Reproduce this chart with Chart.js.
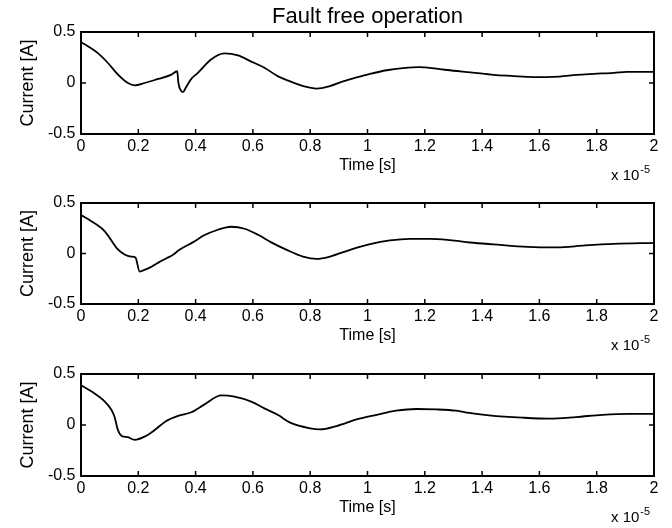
<!DOCTYPE html>
<html><head><meta charset="utf-8">
<script src="https://cdn.jsdelivr.net/npm/chart.js@4/dist/chart.umd.min.js"></script>
<style>
html,body{margin:0;padding:0;background:#fff;}
#wrap{position:relative;width:672px;height:528px;background:#fff;}
canvas{position:absolute;left:0;top:0;}
</style></head><body>
<div id="wrap">
<canvas id="c1" width="672" height="528"></canvas>
<canvas id="c2" width="672" height="528"></canvas>
<canvas id="c3" width="672" height="528"></canvas>
</div>
<script>
// ---- data (time in units of 1e-5 s, current in A) ----
const titleText = 'Fault free operation';
const xTitle = 'Time [s]';
const yTitle = 'Current [A]';
const exponentBase = 'x 10';
const exponentPower = '-5';
const xTickValues = [0, 0.2, 0.4, 0.6, 0.8, 1, 1.2, 1.4, 1.6, 1.8, 2];
const yTickValues = [-0.5, 0, 0.5];

const time1 = [0, 0.024, 0.06, 0.094, 0.13, 0.164, 0.187, 0.222, 0.269, 0.314, 0.336, 0.340, 0.350, 0.356, 0.365, 0.385, 0.408, 0.454, 0.50, 0.548, 0.594, 0.64, 0.688, 0.73, 0.775, 0.823, 0.869, 0.915, 0.962, 1.009, 1.067, 1.124, 1.18, 1.24, 1.30, 1.36, 1.44, 1.51, 1.556, 1.62, 1.67, 1.73, 1.79, 1.86, 1.905, 2.0];
const current1 = [0.40, 0.36, 0.29, 0.196, 0.08, 0.0, -0.023, 0.0, 0.04, 0.08, 0.115, 0.0, -0.08, -0.09, -0.05, 0.04, 0.10, 0.23, 0.29, 0.27, 0.21, 0.15, 0.065, 0.016, -0.03, -0.055, -0.03, 0.016, 0.055, 0.09, 0.125, 0.145, 0.155, 0.14, 0.12, 0.105, 0.08, 0.068, 0.06, 0.058, 0.062, 0.08, 0.09, 0.10, 0.11, 0.11];

const time2 = [0, 0.036, 0.083, 0.129, 0.152, 0.175, 0.19, 0.205, 0.215, 0.24, 0.27, 0.30, 0.32, 0.345, 0.39, 0.43, 0.478, 0.524, 0.571, 0.618, 0.664, 0.718, 0.775, 0.823, 0.869, 0.939, 1.009, 1.078, 1.148, 1.218, 1.288, 1.358, 1.44, 1.56, 1.66, 1.76, 1.86, 2.0];
const current2 = [0.38, 0.32, 0.22, 0.04, -0.01, -0.03, -0.04, -0.18, -0.17, -0.14, -0.09, -0.045, -0.015, 0.04, 0.11, 0.18, 0.235, 0.265, 0.245, 0.185, 0.11, 0.036, -0.03, -0.053, -0.03, 0.036, 0.092, 0.129, 0.145, 0.145, 0.132, 0.109, 0.09, 0.065, 0.06, 0.08, 0.095, 0.105];

const time3 = [0, 0.036, 0.083, 0.106, 0.117, 0.129, 0.141, 0.164, 0.187, 0.222, 0.257, 0.295, 0.339, 0.385, 0.43, 0.49, 0.536, 0.594, 0.64, 0.688, 0.73, 0.80, 0.834, 0.892, 0.962, 1.032, 1.10, 1.17, 1.24, 1.31, 1.354, 1.424, 1.54, 1.634, 1.728, 1.82, 1.913, 2.0];
const current3 = [0.39, 0.33, 0.23, 0.15, 0.08, -0.05, -0.105, -0.12, -0.145, -0.114, -0.05, 0.035, 0.09, 0.125, 0.20, 0.29, 0.278, 0.229, 0.163, 0.098, 0.023, -0.033, -0.043, -0.01, 0.055, 0.10, 0.14, 0.157, 0.153, 0.14, 0.118, 0.095, 0.072, 0.062, 0.078, 0.10, 0.11, 0.11];

// ---- layout ----
const FONT = '"Liberation Sans", Arial, Helvetica, sans-serif';
const PLOT_LEFT = 81, PLOT_RIGHT = 654, W = 672, H = 528, XAXIS_H = 46;
const TICK_IN = 5;
const panels = [
  {id: 'c1', time: time1, current: current1, top: 32, bottom: 134, title: true},
  {id: 'c2', time: time2, current: current2, top: 203, bottom: 304, title: false},
  {id: 'c3', time: time3, current: current3, top: 374, bottom: 476, title: false}
];

// MATLAB-style inward tick marks (placed through the scales) and the "x 10^-5" exponent label
const axisDecor = {
  id: 'axisDecor',
  afterDraw(chart) {
    const ctx = chart.ctx;
    const area = chart.chartArea;
    const xs = chart.scales.x, ys = chart.scales.y;
    ctx.save();
    ctx.strokeStyle = '#000000';
    ctx.lineWidth = 1.5;
    ctx.setLineDash([]);
    for (const v of xTickValues) {
      const px = xs.getPixelForValue(v);
      ctx.beginPath();
      ctx.moveTo(px, area.bottom);
      ctx.lineTo(px, area.bottom - TICK_IN);
      ctx.stroke();
      ctx.beginPath();
      ctx.moveTo(px, area.top);
      ctx.lineTo(px, area.top + TICK_IN);
      ctx.stroke();
    }
    for (const v of yTickValues) {
      const py = ys.getPixelForValue(v);
      ctx.beginPath();
      ctx.moveTo(area.left, py);
      ctx.lineTo(area.left + TICK_IN, py);
      ctx.stroke();
      ctx.beginPath();
      ctx.moveTo(area.right, py);
      ctx.lineTo(area.right - TICK_IN, py);
      ctx.stroke();
    }
    ctx.fillStyle = '#000';
    ctx.textAlign = 'left';
    ctx.textBaseline = 'alphabetic';
    ctx.font = '15px ' + FONT;
    const x0 = area.right - 43, y0 = area.bottom + 46;
    ctx.fillText(exponentBase, x0, y0);
    const w = ctx.measureText(exponentBase).width;
    ctx.font = '11px ' + FONT;
    ctx.fillText(exponentPower, x0 + w + 1, y0 - 7);
    ctx.restore();
  }
};

function gridOpts() {
  return {display: false, drawOnChartArea: false, drawTicks: false, tickLength: 0};
}
function borderOpts() {
  return {display: true, color: '#000', width: 2};
}

panels.forEach(p => {
  const TITLE_H = 22 * 1.2 + 2;
  const padTop = p.title ? p.top - TITLE_H : p.top;
  new Chart(document.getElementById(p.id), {
    type: 'scatter',
    data: {
      datasets: [{
        data: p.time.map((t, i) => ({x: t, y: p.current[i]})),
        showLine: true, borderColor: '#000', borderWidth: 1.8, pointRadius: 0,
        cubicInterpolationMode: 'monotone', fill: false
      }]
    },
    options: {
      responsive: false, maintainAspectRatio: false, devicePixelRatio: 1, animation: false, events: [],
      layout: {padding: {left: 0, right: W - PLOT_RIGHT, top: padTop, bottom: H - p.bottom - XAXIS_H}},
      plugins: {
        legend: {display: false}, tooltip: {enabled: false},
        title: {display: p.title, text: titleText, fullSize: false, color: '#000',
          font: {family: FONT, size: 22, weight: 'normal'}, padding: {top: 0, bottom: 2}}
      },
      scales: {
        x: {
          type: 'linear', position: 'bottom', min: 0, max: 2,
          afterFit: s => { s.height = XAXIS_H; },
          afterBuildTicks: s => { s.ticks = xTickValues.map(v => ({value: v})); },
          grid: gridOpts(), border: borderOpts(),
          ticks: {color: '#000', font: {family: FONT, size: 16}, padding: 3, autoSkip: false, maxRotation: 0, callback: v => String(v)},
          title: {display: true, text: xTitle, color: '#000', font: {family: FONT, size: 16}, padding: {top: 0, bottom: 5}}
        },
        x2: {type: 'linear', position: 'top', min: 0, max: 2, afterFit: s => { s.height = 0; },
          grid: gridOpts(), border: borderOpts(), ticks: {display: false}},
        y: {
          type: 'linear', position: 'left', min: -0.5, max: 0.5,
          afterFit: s => { s.width = PLOT_LEFT; },
          afterBuildTicks: s => { s.ticks = yTickValues.map(v => ({value: v})); },
          grid: gridOpts(), border: borderOpts(),
          ticks: {color: '#000', font: {family: FONT, size: 16}, padding: 5.5, callback: v => String(v)},
          title: {display: true, text: yTitle, color: '#000', font: {family: FONT, size: 18}, padding: {top: 17, bottom: 0}}
        },
        y2: {type: 'linear', position: 'right', min: -0.5, max: 0.5, afterFit: s => { s.width = 0; },
          grid: gridOpts(), border: borderOpts(), ticks: {display: false}}
      }
    },
    plugins: [axisDecor]
  });
});
</script>
</body></html>
